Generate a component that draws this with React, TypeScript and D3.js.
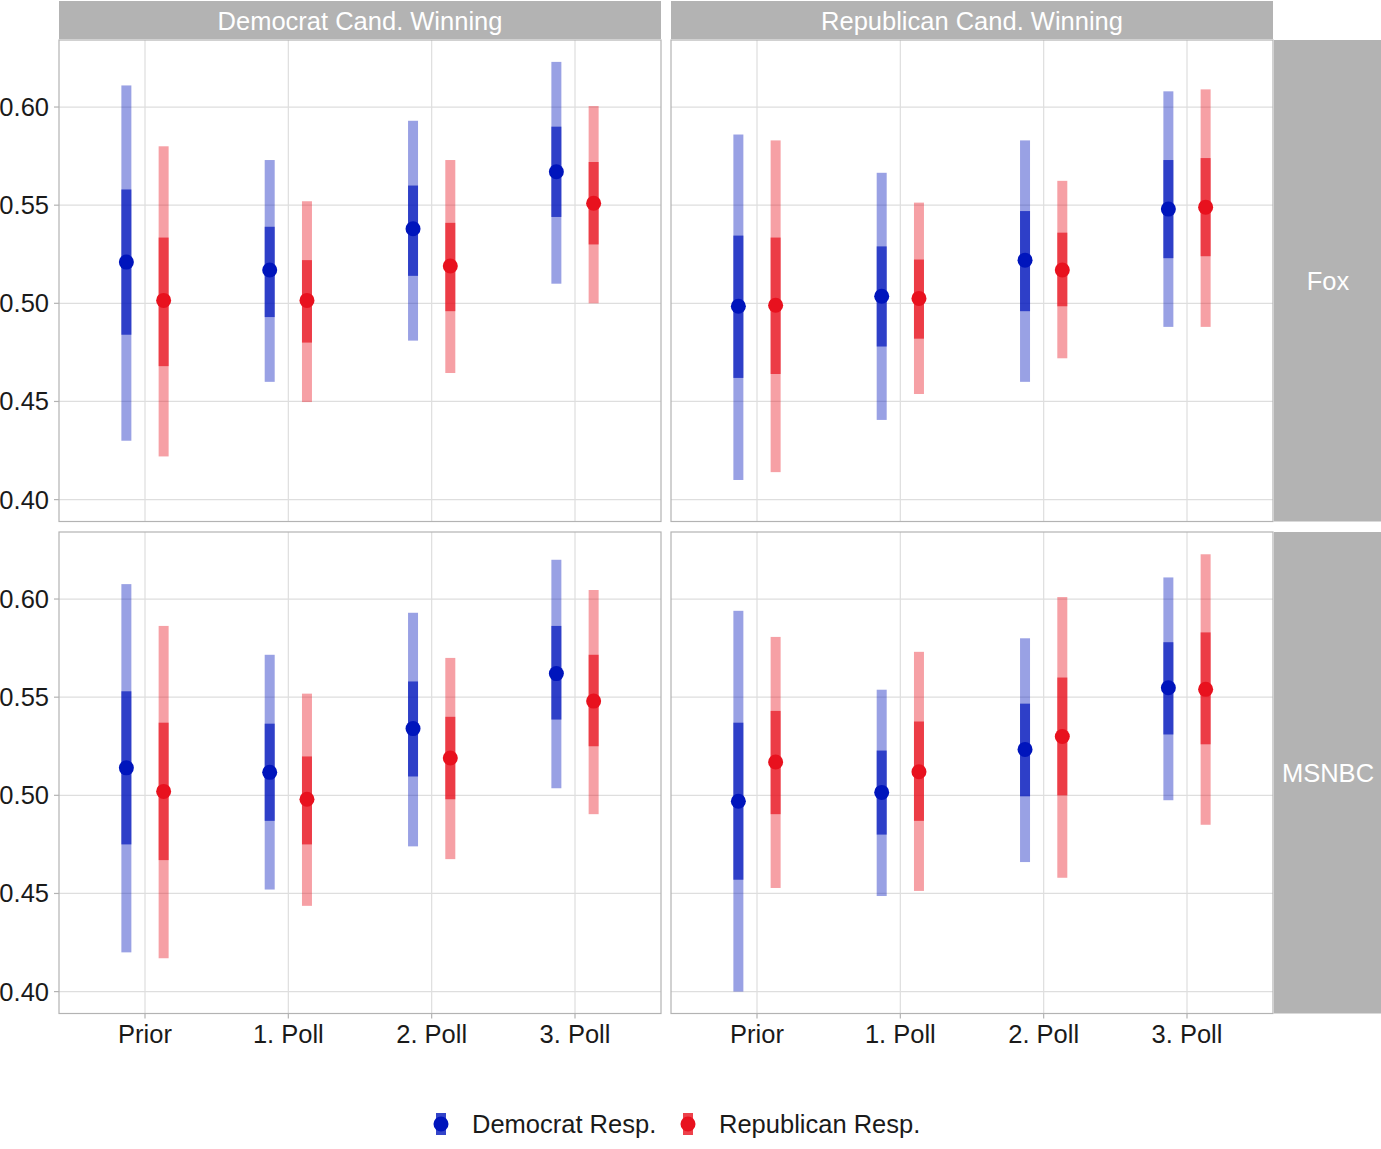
import * as d3 from 'd3';

const stages = ['Prior', '1. Poll', '2. Poll', '3. Poll'];
const networks = ['Fox', 'MSNBC'];
const candidates = ['Democrat Cand. Winning', 'Republican Cand. Winning'];
const respondents = ['Democrat Resp.', 'Republican Resp.'];
const yTicks = [0.4, 0.45, 0.5, 0.55, 0.6];

// each row: [estimate, inner low, inner high, outer low, outer high]
const foxDemCandDemResp = [
  [0.521, 0.484, 0.558, 0.430, 0.611],
  [0.517, 0.493, 0.539, 0.460, 0.573],
  [0.538, 0.514, 0.560, 0.481, 0.593],
  [0.567, 0.544, 0.590, 0.510, 0.623],
];
const foxDemCandRepResp = [
  [0.5015, 0.468, 0.5335, 0.422, 0.580],
  [0.5015, 0.480, 0.522, 0.4497, 0.552],
  [0.519, 0.496, 0.541, 0.4645, 0.573],
  [0.551, 0.530, 0.572, 0.500, 0.6005],
];
const foxRepCandDemResp = [
  [0.4985, 0.462, 0.5345, 0.410, 0.586],
  [0.5036, 0.478, 0.529, 0.4406, 0.5665],
  [0.522, 0.496, 0.547, 0.460, 0.583],
  [0.548, 0.523, 0.573, 0.488, 0.608],
];
const foxRepCandRepResp = [
  [0.499, 0.464, 0.5335, 0.414, 0.583],
  [0.5025, 0.482, 0.5223, 0.4538, 0.5513],
  [0.517, 0.4985, 0.536, 0.472, 0.5624],
  [0.549, 0.524, 0.574, 0.488, 0.609],
];
const msnbcDemCandDemResp = [
  [0.514, 0.475, 0.553, 0.420, 0.6076],
  [0.5117, 0.487, 0.5365, 0.452, 0.5716],
  [0.534, 0.5096, 0.558, 0.474, 0.593],
  [0.562, 0.5386, 0.5863, 0.5036, 0.620],
];
const msnbcDemCandRepResp = [
  [0.502, 0.467, 0.537, 0.417, 0.5863],
  [0.498, 0.475, 0.5198, 0.4437, 0.5518],
  [0.519, 0.498, 0.540, 0.4675, 0.570],
  [0.548, 0.525, 0.5716, 0.4904, 0.6046],
];
const msnbcRepCandDemResp = [
  [0.497, 0.457, 0.537, 0.400, 0.594],
  [0.5015, 0.480, 0.5228, 0.4487, 0.5538],
  [0.5234, 0.4995, 0.5467, 0.466, 0.580],
  [0.5548, 0.531, 0.578, 0.4975, 0.611],
];
const msnbcRepCandRepResp = [
  [0.517, 0.4904, 0.543, 0.4528, 0.5807],
  [0.512, 0.487, 0.5376, 0.4513, 0.5731],
  [0.530, 0.500, 0.560, 0.458, 0.601],
  [0.554, 0.526, 0.583, 0.485, 0.6228],
];

// panels[row][col][respondent]
const panels = [
  [
    [foxDemCandDemResp, foxDemCandRepResp],
    [foxRepCandDemResp, foxRepCandRepResp],
  ],
  [
    [msnbcDemCandDemResp, msnbcDemCandRepResp],
    [msnbcRepCandDemResp, msnbcRepCandRepResp],
  ],
];

const colors = ['#0015BC', '#E8111E'];
const font = '"Liberation Sans", Arial, sans-serif';

export default function App() {
  const width = 1381;
  const height = 1149;
  const panelW = 602;
  const panelH = 481.5;
  const colX = [59, 671];
  const rowY = [40, 532];
  const stripTop = 1;
  const rightStripW = 108;
  const fs = 25.5;

  const all = panels.flat(3).flat();
  const [lo, hi] = d3.extent(all) as [number, number];
  const pad = (hi - lo) * 0.05;

  const y = d3.scaleLinear().domain([lo - pad, hi + pad]).range([panelH, 0]);
  const x = d3.scalePoint<string>().domain(stages).range([0, panelW]).padding(0.6);
  const dodge = d3.scalePoint<string>().domain(respondents).range([-0.13, 0.13]);
  const step = x.step();

  const barW = 10;
  const r = 7.5;

  return (
    <svg
      width={width}
      height={height}
      style={{ position: 'absolute', left: 0, top: 0, background: '#fff', fontFamily: font }}
    >
      {/* column strips */}
      {candidates.map((c, ci) => (
        <g key={c}>
          <rect x={colX[ci]} y={stripTop} width={panelW} height={rowY[0] - stripTop - 1} fill="#B3B3B3" />
          <text
            x={colX[ci] + panelW / 2}
            y={(stripTop + rowY[0]) / 2 + 9}
            textAnchor="middle"
            fill="#fff"
            fontSize={fs}
          >
            {c}
          </text>
        </g>
      ))}

      {/* row strips */}
      {networks.map((n, ri) => (
        <g key={n}>
          <rect x={colX[1] + panelW + 1} y={rowY[ri]} width={rightStripW} height={panelH} fill="#B3B3B3" />
          <text
            x={colX[1] + panelW + 1 + rightStripW / 2}
            y={rowY[ri] + panelH / 2 + 9}
            textAnchor="middle"
            fill="#fff"
            fontSize={fs}
          >
            {n}
          </text>
        </g>
      ))}

      {networks.map((n, ri) =>
        candidates.map((c, ci) => (
          <g key={n + c} transform={`translate(${colX[ci]},${rowY[ri]})`}>
            <rect width={panelW} height={panelH} fill="#fff" />
            {yTicks.map(t => (
              <line key={t} x1={0} x2={panelW} y1={y(t)} y2={y(t)} stroke="#DEDEDE" strokeWidth={1.2} />
            ))}
            {stages.map(s => (
              <line key={s} x1={x(s)} x2={x(s)} y1={0} y2={panelH} stroke="#DEDEDE" strokeWidth={1.2} />
            ))}

            {respondents.map((resp, k) =>
              panels[ri][ci][k].map((d, si) => {
                const cx = (x(stages[si]) ?? 0) + (dodge(resp) ?? 0) * step;
                return (
                  <g key={resp + si}>
                    <rect
                      x={cx - barW / 2}
                      y={y(d[4])}
                      width={barW}
                      height={y(d[3]) - y(d[4])}
                      fill={colors[k]}
                      fillOpacity={0.4}
                    />
                    <rect
                      x={cx - barW / 2}
                      y={y(d[2])}
                      width={barW}
                      height={y(d[1]) - y(d[2])}
                      fill={colors[k]}
                      fillOpacity={0.7}
                    />
                    <circle cx={cx} cy={y(d[0])} r={r} fill={colors[k]} />
                  </g>
                );
              })
            )}

            <rect width={panelW} height={panelH} fill="none" stroke="#B3B3B3" strokeWidth={1.2} />

            {ci === 0 &&
              yTicks.map(t => (
                <g key={t}>
                  <line x1={-5} x2={0} y1={y(t)} y2={y(t)} stroke="#B3B3B3" strokeWidth={1.2} />
                  <text x={-10} y={y(t) + 9} textAnchor="end" fontSize={fs} fill="#1A1A1A">
                    {t.toFixed(2)}
                  </text>
                </g>
              ))}
            {ri === 1 &&
              stages.map(s => (
                <g key={s}>
                  <line x1={x(s)} x2={x(s)} y1={panelH} y2={panelH + 5} stroke="#B3B3B3" strokeWidth={1.2} />
                  <text x={x(s)} y={panelH + 29} textAnchor="middle" fontSize={fs} fill="#1A1A1A">
                    {s}
                  </text>
                </g>
              ))}
          </g>
        ))
      )}

      {/* legend */}
      {respondents.map((resp, k) => {
        const lx = [441, 688][k];
        const ly = 1124;
        return (
          <g key={resp}>
            <rect x={lx - barW / 2} y={ly - 11} width={barW} height={22} fill={colors[k]} fillOpacity={0.8} />
            <circle cx={lx} cy={ly} r={r} fill={colors[k]} />
            <text x={lx + 31} y={ly + 9} fontSize={fs} fill="#1A1A1A">
              {resp}
            </text>
          </g>
        );
      })}
    </svg>
  );
}
